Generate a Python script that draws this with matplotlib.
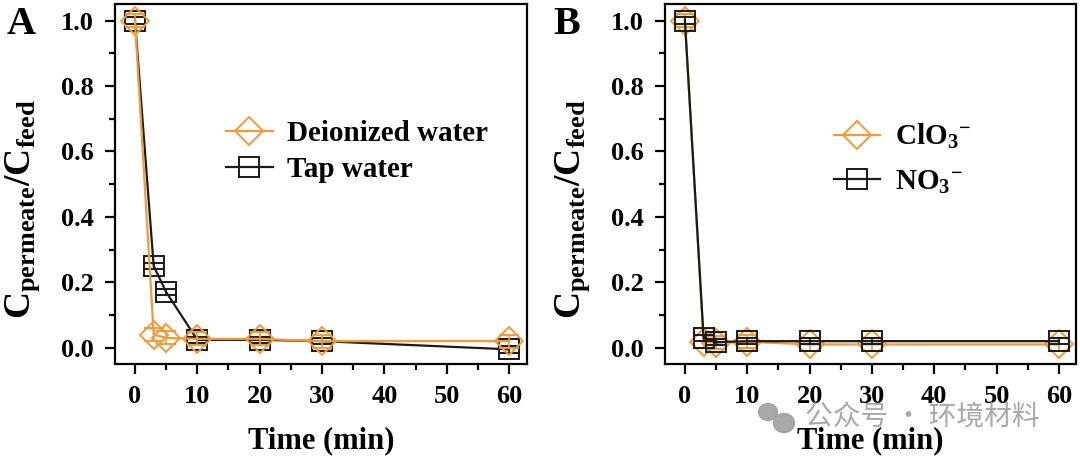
import numpy as np
import matplotlib
matplotlib.use('Agg')
import matplotlib.pyplot as plt
from matplotlib.ticker import MultipleLocator, FormatStrFormatter
from matplotlib.patches import Ellipse

plt.rcParams['font.family'] = 'Liberation Serif'
plt.rcParams['font.weight'] = 'bold'
plt.rcParams['mathtext.fontset'] = 'custom'
plt.rcParams['mathtext.rm'] = 'Liberation Serif:bold'
plt.rcParams['mathtext.it'] = 'Liberation Serif:bold'
plt.rcParams['mathtext.bf'] = 'Liberation Serif:bold'

# data
time = [0, 3, 5, 10, 20, 30, 60]

# panel A
deionized = [1.0, 0.04, 0.03, 0.027, 0.027, 0.02, 0.02]
deionized_err = [0.02, 0.02, 0.02, 0.02, 0.02, 0.02, 0.02]
tap = [1.0, 0.25, 0.17, 0.024, 0.024, 0.02, -0.005]
tap_err = [0.01, 0.01, 0.01, 0.01, 0.01, 0.01, 0.01]

# panel B
clo3 = [1.0, 0.018, 0.015, 0.018, 0.01, 0.01, 0.01]
clo3_err = [0.02, 0.02, 0.02, 0.02, 0.02, 0.02, 0.02]
no3 = [1.0, 0.03, 0.017, 0.02, 0.02, 0.02, 0.02]
no3_err = [0.01, 0.01, 0.01, 0.01, 0.01, 0.01, 0.01]

labels_A = ['Deionized water', 'Tap water']
labels_B = [r'$\mathbf{ClO_3}$$\mathbf{^{-}}$', r'$\mathbf{NO_3}$$\mathbf{^{-}}$']

orange = '#f29a38'
black = '#1a1a1a'

fig = plt.figure(figsize=(10.8, 4.62), dpi=100)
axA = fig.add_axes([0.1065, 0.212, 0.381, 0.779])
axB = fig.add_axes([0.6157, 0.212, 0.381, 0.779])


def style_axis(ax):
    ax.set_xlim(-3.2, 62.8)
    ax.set_ylim(-0.05, 1.05)
    ax.xaxis.set_major_locator(MultipleLocator(10))
    ax.xaxis.set_minor_locator(MultipleLocator(5))
    ax.yaxis.set_major_locator(MultipleLocator(0.2))
    ax.yaxis.set_minor_locator(MultipleLocator(0.1))
    ax.yaxis.set_major_formatter(FormatStrFormatter('%.1f'))
    ax.tick_params(which='major', direction='out', length=7, width=1.6,
                   labelsize=19, pad=8, top=False, right=False)
    ax.tick_params(which='minor', direction='out', length=4, width=1.6,
                   top=False, right=False)
    for s in ax.spines.values():
        s.set_linewidth(1.6)
    ax.set_xlabel('Time (min)', fontsize=22, fontweight='bold', labelpad=13)
    ax.set_ylabel(r'$\mathbf{C_{permeate}/C_{feed}}$', fontsize=27,
                  fontweight='bold', va='center')
    ax.yaxis.set_label_coords(-0.225, 0.43)


# panel A
axA.errorbar(time, deionized, yerr=deionized_err, color=orange, marker='D',
             markersize=14, markerfacecolor='none', markeredgewidth=1.4,
             linewidth=1.6, capsize=7, capthick=1.2, elinewidth=1.2,
             label=labels_A[0], zorder=3)
axA.errorbar(time, tap, yerr=tap_err, color=black, marker='s',
             markersize=15, markerfacecolor='none', markeredgewidth=1.4,
             linewidth=1.6, capsize=7, capthick=1.2, elinewidth=1.2,
             label=labels_A[1], zorder=2)
style_axis(axA)
hA, lA = axA.get_legend_handles_labels()
axA.legend([h[0] for h in hA], lA, loc='center left',
           bbox_to_anchor=(0.27, 0.59), frameon=False, fontsize=21,
           borderpad=0, borderaxespad=0, handlelength=1.6, handletextpad=0.5,
           labelspacing=0.3)

# panel B
axB.errorbar(time, clo3, yerr=clo3_err, color=orange, marker='D',
             markersize=14, markerfacecolor='none', markeredgewidth=1.4,
             linewidth=1.6, capsize=7, capthick=1.2, elinewidth=1.2,
             label=labels_B[0], zorder=2)
axB.errorbar(time, no3, yerr=no3_err, color=black, marker='s',
             markersize=15, markerfacecolor='none', markeredgewidth=1.4,
             linewidth=1.6, capsize=7, capthick=1.2, elinewidth=1.2,
             label=labels_B[1], zorder=3)
style_axis(axB)
hB, lB = axB.get_legend_handles_labels()
axB.legend([h[0] for h in hB], lB, loc='center left',
           bbox_to_anchor=(0.41, 0.57), frameon=False, fontsize=21,
           borderpad=0, borderaxespad=0, handlelength=1.6, handletextpad=0.5,
           labelspacing=0.6)

# panel letters
fig.text(0.006, 0.948, 'A', fontsize=29, fontweight='bold', va='center')
fig.text(0.512, 0.948, 'B', fontsize=29, fontweight='bold', va='center')

# watermark
fig.patches.append(Ellipse((768 / 1080, 1 - 412 / 462), 19 / 1080, 17 / 462,
                           transform=fig.transFigure, color='#9a9a9a', alpha=0.85))
fig.patches.append(Ellipse((784 / 1080, 1 - 423 / 462), 21 / 1080, 19 / 462,
                           transform=fig.transFigure, color='#9a9a9a', alpha=0.85))
fig.text(805 / 1080, 1 - 418 / 462, '公众号 · 环境材料', fontsize=20,
         color='#9a9a9a', family=['Noto Sans CJK SC', 'DejaVu Sans'],
         fontweight='normal', va='center', alpha=0.85)

fig.savefig('out.png', dpi=100)
